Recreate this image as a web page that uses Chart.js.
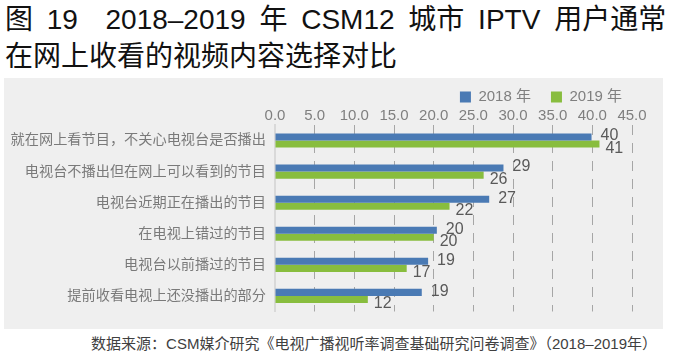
<!DOCTYPE html>
<html>
<head>
<meta charset="utf-8">
<script src="https://cdn.jsdelivr.net/npm/chart.js@4.4.1/dist/chart.umd.min.js"></script>
<style>
  html, body { margin: 0; padding: 0; background: #ffffff; width: 673px; height: 358px; overflow: hidden; }
  body { position: relative; font-family: "Liberation Sans", "Noto Sans CJK SC", sans-serif; }
  #title { position: absolute; left: 5px; top: 1px; font-size: 28px; line-height: 37px; color: #111; white-space: pre; word-spacing: 6px; }
  #panel { position: absolute; left: 4px; top: 78px; width: 659px; height: 251px; background: #efefef; }
  #source { position: absolute; right: 16px; top: 334px; font-size: 15px; line-height: 20px; color: #404040; white-space: pre; }
  canvas { display: block; }
</style>
</head>
<body>
<div id="title">图 19  2018–2019 年 CSM12 城市 IPTV 用户通常
在网上收看的视频内容选择对比</div>
<div id="panel"><canvas id="c" width="659" height="251"></canvas></div>
<div id="source">数据来源：CSM媒介研究《电视广播视听率调查基础研究问卷调查》（2018–2019年）</div>
<script>
const categories = [
  '就在网上看节目，不关心电视台是否播出',
  '电视台不播出但在网上可以看到的节目',
  '电视台近期正在播出的节目',
  '在电视上错过的节目',
  '电视台以前播过的节目',
  '提前收看电视上还没播出的部分'
];
const seriesNames = ['2018 年', '2019 年'];
const values2018 = [39.9, 28.8, 27.0, 20.4, 19.3, 18.5];
const values2019 = [40.9, 26.3, 22.0, 20.0, 16.6, 11.7];
const axisMin = 0, axisMax = 45, axisStep = 5;

const FONT = '"Liberation Sans", "Noto Sans CJK SC", sans-serif';
const LEGEND_PAD = 20;

const valueLabels = {
  id: 'valueLabels',
  afterDatasetsDraw(chart) {
    const ctx = chart.ctx;
    ctx.save();
    ctx.font = '16px ' + FONT;
    ctx.fillStyle = '#595959';
    ctx.textAlign = 'left';
    ctx.textBaseline = 'middle';
    chart.data.datasets.forEach((ds, di) => {
      const meta = chart.getDatasetMeta(di);
      meta.data.forEach((el, i) => {
        const dx = di === 0 ? 9 : 6;
        const dy = di === 0 ? -1 : 4.5;
        ctx.fillText(String(Math.round(ds.data[i])), el.x + dx, el.y + dy);
      });
    });
    ctx.restore();
  }
};

// keep the legend compact and place it at the top right of the panel
const legendPlacer = {
  id: 'legendPlacer',
  beforeLayout(chart) {
    const lg = chart.legend;
    if (lg && !lg._patched) {
      const orig = lg.fit;
      lg.fit = function () { orig.call(this); this.height = 29.5; };
      lg._patched = true;
    }
  },
  afterLayout(chart) {
    const lg = chart.legend;
    if (lg) {
      lg.top = 19 - LEGEND_PAD - 7.5;
      lg.right = 638;
    }
  }
};

new Chart(document.getElementById('c'), {
  type: 'bar',
  data: {
    labels: categories,
    datasets: [
      { label: seriesNames[0], data: values2018, backgroundColor: '#4a7ab4', borderWidth: 0 },
      { label: seriesNames[1], data: values2019, backgroundColor: '#88bd3e', borderWidth: 0 }
    ]
  },
  options: {
    indexAxis: 'y',
    responsive: false,
    animation: false,
    devicePixelRatio: 1,
    layout: { padding: { left: 0, right: 31, top: 0, bottom: 5.5 } },
    datasets: { bar: { categoryPercentage: 0.455, barPercentage: 1.0 } },
    plugins: {
      legend: {
        position: 'top',
        align: 'end',
        labels: {
          boxWidth: 11,
          boxHeight: 11,
          padding: LEGEND_PAD,
          color: '#7f7f7f',
          font: { size: 15, family: FONT }
        }
      },
      tooltip: { enabled: false },
      title: { display: false }
    },
    scales: {
      x: {
        position: 'top',
        min: axisMin,
        max: axisMax,
        ticks: {
          stepSize: axisStep,
          padding: 0,
          color: '#7f7f7f',
          font: { size: 15, family: FONT },
          callback: v => Number(v).toFixed(1)
        },
        grid: {
          drawTicks: false,
          color: c => (c.tick && c.tick.value === 0) ? 'rgba(0,0,0,0)' : '#a6a6a6',
          lineWidth: 1
        },
        border: { display: false, dash: [10, 8] },
        afterFit: s => { s.height = 17.5; }
      },
      y: {
        ticks: {
          padding: 9,
          color: '#7a7a7a',
          font: { size: 14.2, family: FONT }
        },
        grid: { display: false, drawTicks: false },
        border: { display: true, color: '#d9d9d9', width: 2 },
        afterFit: s => { s.width = 271; }
      }
    }
  },
  plugins: [legendPlacer, valueLabels]
});
</script>
</body>
</html>
